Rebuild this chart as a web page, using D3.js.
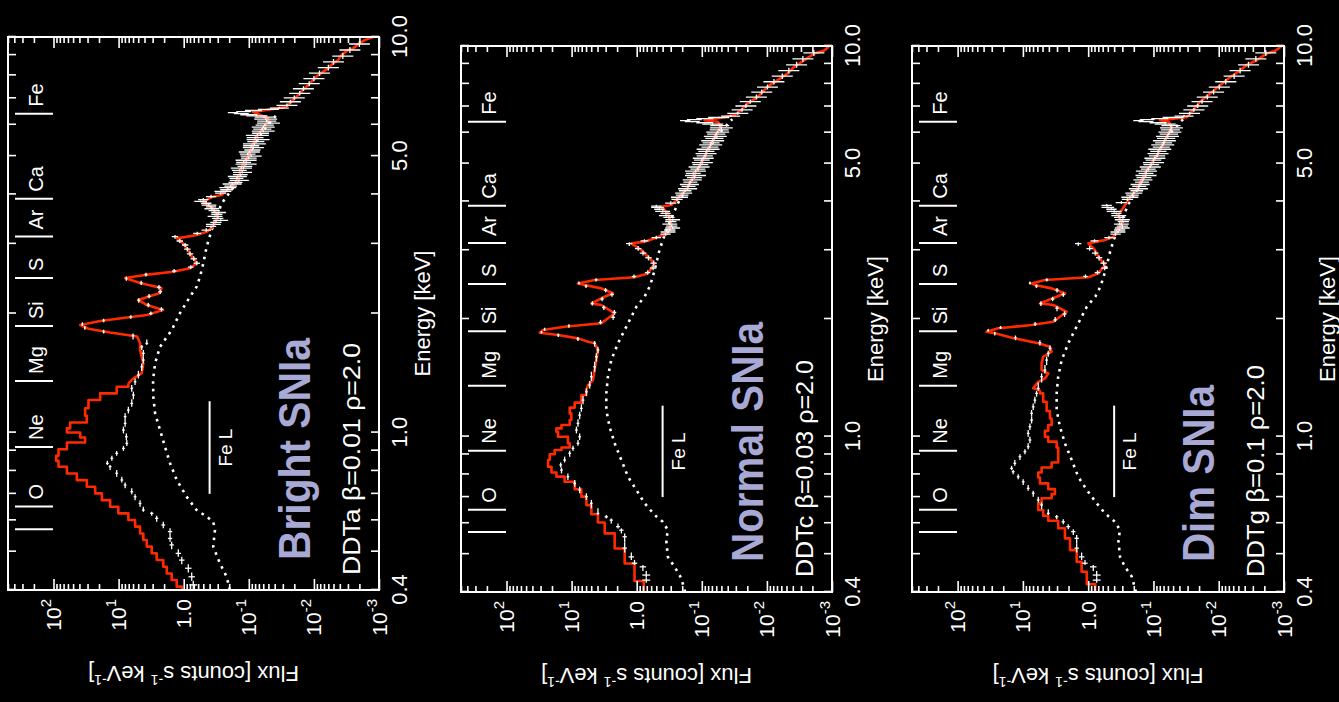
<!DOCTYPE html>
<html>
<head>
<meta charset="utf-8">
<script src="https://cdn.jsdelivr.net/npm/d3@7"></script>
<style>
  html, body { margin: 0; background: #000; }
  svg { display: block; }
  text { font-family: "Liberation Sans", Arial, sans-serif; fill: #fff; }
</style>
</head>
<body>
<svg id="chart" width="1339" height="702"></svg>
<script>
// ---------- axes ----------
const energyTicks = [0.4, 0.5, 0.6, 0.7, 0.8, 0.9, 1, 2, 3, 4, 5, 6, 7, 8, 9, 10];
const energyLabelValues = [0.4, 1, 5, 10];
const energyLabelText = ["0.4", "1.0", "5.0", "10.0"];
const fluxDecades = [100, 10, 1, 0.1, 0.01, 0.001];
const fluxLabelBase = ["10", "10", "1.0", "10", "10", "10"];
const fluxLabelExp = ["2", "1", "", "-1", "-2", "-3"];

// ---------- line identifications ----------
const elementLines = [0.57, 0.65, 0.92, 1.35, 1.86, 2.46, 3.13, 3.90, 6.40];
const elementNames = ["O", "Ne", "Mg", "Si", "S", "Ar", "Ca", "Fe"];
const elementLabelE = [0.65, 0.92, 1.35, 1.86, 2.46, 3.13, 3.90, 6.40];
const feLBand = [0.70, 1.20];
const feLFlux = 0.40;

// ---------- Bright SNIa (DDTa) ----------
const brightModel = [[0.400,1.07],[0.416,1.28],[0.432,1.53],[0.449,1.82],[0.467,2.06],[0.486,2.60],[0.505,3.10],[0.525,3.69],[0.545,4.17],[0.567,4.68],[0.590,5.58],[0.613,7.08],[0.637,10.1],[0.662,13.5],[0.688,18.1],[0.716,22.9],[0.744,30.8],[0.773,43.8],[0.804,62.2],[0.836,83.8],[0.861,90.9],[0.886,83.8],[0.930,62.2],[0.958,32.7],[0.986,38.9],[1.015,62.2],[1.035,55.5],[1.087,30.8],[1.119,32.7],[1.186,29.0],[1.232,19.2],[1.281,10.7],[1.332,7.08],[1.371,5.93],[1.413,4.41],[1.497,4.17],[1.618,4.68],[1.681,4.68],[1.750,5.2],[1.790,13.5],[1.830,29.0],[1.871,38.9],[1.915,19.2],[1.949,8.53],[1.983,3.66],[2.041,2.08],[2.101,3.66],[2.164,5.02],[2.254,2.31],[2.321,2.20],[2.388,4.68],[2.459,7.94],[2.500,4.17],[2.551,1.46],[2.602,0.80],[2.679,0.625],[2.785,0.746],[2.895,0.859],[3.009,1.03],[3.097,1.27],[3.159,0.625],[3.221,0.44],[3.316,0.356],[3.514,0.298],[3.690,0.356],[3.835,0.506],[3.948,0.356],[3.986,0.261],[4.104,0.219],[4.183,0.184],[4.306,0.154],[4.522,0.137],[4.793,0.122],[4.981,0.102],[5.28,0.0906],[5.60,0.0759],[5.82,0.0637],[6.05,0.0533],[6.23,0.0503],[6.41,0.0759],[6.47,0.0857],[6.54,0.0533],[6.64,0.0296],[6.73,0.0249],[6.93,0.0209],[7.13,0.0175],[7.34,0.0147],[7.56,0.0123],[7.78,0.0103],[8.01,0.00862],[8.17,0.00723],[8.33,0.00606],[8.58,0.00508],[8.74,0.00426],[9.00,0.00378],[9.27,0.00299],[9.36,0.0025],[9.64,0.00198],[9.82,0.00166],[10.0,0.00124]];
// [energy keV, flux, relative error]
const brightData = [[0.412,0.713,0.15],[0.432,0.753,0.12],[0.454,0.85,0.12],[0.476,1.07,0.1],[0.495,1.21,0.1],[0.520,1.53,0.08],[0.540,1.62,0.08],[0.562,1.62,0.08],[0.584,2.06,0.07],[0.607,2.60,0.06],[0.625,3.10,0.06],[0.637,4.17,0.05],[0.662,4.68,0.05],[0.688,5.58,0.05],[0.709,6.28,0.05],[0.737,7.94,0.05],[0.759,8.93,0.05],[0.789,10.7,0.05],[0.820,13.5,0.05],[0.836,14.9,0.05],[0.861,12.7,0.05],[0.886,10.7,0.05],[0.912,8.43,0.05],[0.939,7.48,0.05],[0.976,7.6,0.05],[1.015,8.43,0.05],[1.055,7.94,0.05],[1.097,7.94,0.05],[1.140,7.08,0.05],[1.185,6.28,0.05],[1.244,5.93,0.05],[1.294,6.28,0.05],[1.344,5.58,0.05],[1.398,4.96,0.05],[1.467,4.41,0.05],[1.525,4.17,0.05],[1.586,4.17,0.05],[1.648,4.41,0.05],[1.681,3.69,0.05],[1.76,6.0,0.05],[1.80,17,0.04],[1.84,33,0.03],[1.88,36,0.03],[1.92,17,0.04],[1.96,6.5,0.05],[2.00,3.2,0.06],[2.05,2.2,0.07],[2.10,3.5,0.06],[2.16,4.9,0.05],[2.21,3.4,0.06],[2.27,2.3,0.07],[2.33,2.4,0.07],[2.39,4.5,0.05],[2.45,7.6,0.04],[2.51,3.8,0.05],[2.56,1.4,0.08],[2.62,0.78,0.1],[2.68,0.63,0.12],[2.75,0.70,0.12],[2.83,0.80,0.12],[2.91,0.88,0.12],[2.98,0.95,0.12],[3.05,1.15,0.12],[3.13,1.36,0.12],[3.19,0.62,0.15],[3.25,0.45,0.18],[3.32,0.38,0.2],[3.40,0.32,0.22],[3.48,0.30,0.22],[3.56,0.31,0.22],[3.64,0.34,0.22],[3.72,0.38,0.2],[3.80,0.45,0.2],[3.88,0.50,0.2],[3.95,0.38,0.2],[4.03,0.27,0.22],[4.11,0.22,0.25],[4.20,0.19,0.25],[4.29,0.16,0.28],[4.39,0.155,0.28],[4.49,0.135,0.3],[4.60,0.14,0.3],[4.71,0.115,0.3],[4.82,0.12,0.3],[4.94,0.10,0.32],[5.06,0.104,0.32],[5.18,0.088,0.33],[5.31,0.092,0.33],[5.44,0.078,0.35],[5.57,0.080,0.35],[5.71,0.066,0.35],[5.85,0.062,0.38],[5.99,0.057,0.38],[6.13,0.053,0.4],[6.27,0.058,0.4],[6.36,0.10,0.35],[6.44,0.175,0.2],[6.52,0.085,0.35],[6.61,0.034,0.4],[6.72,0.026,0.45],[6.86,0.023,0.45],[7.02,0.020,0.45],[7.20,0.0165,0.45],[7.40,0.0145,0.45],[7.62,0.0118,0.45],[7.85,0.0100,0.45],[8.10,0.0082,0.45],[8.37,0.0060,0.45],[8.65,0.0050,0.45],[8.95,0.0036,0.45],[9.27,0.0028,0.45],[9.60,0.0020,0.45],
  [3.36,0.35,0.3],[3.44,0.27,0.3],[3.52,0.33,0.3],[3.60,0.29,0.3],[3.68,0.37,0.3],[3.76,0.41,0.3],[3.84,0.55,0.25],[4.07,0.25,0.35],[4.16,0.21,0.35],[4.25,0.18,0.4],[4.34,0.14,0.4],[4.44,0.15,0.4],[4.55,0.125,0.4],[4.66,0.13,0.45],[4.77,0.11,0.45],[4.88,0.11,0.45],[5.00,0.092,0.45],[5.12,0.098,0.45],[5.25,0.085,0.45],[5.37,0.082,0.5],[5.50,0.072,0.5],[5.64,0.074,0.5],[5.78,0.06,0.5],[5.92,0.06,0.5],[6.06,0.05,0.5],[6.20,0.055,0.5],[6.32,0.075,0.45],[6.40,0.13,0.3],[6.48,0.12,0.3],[6.56,0.05,0.45]];
const brightCont = [[0.40,0.195],[0.432,0.219],[0.467,0.277],[0.515,0.352],[0.567,0.331],[0.595,0.352],[0.613,0.444],[0.637,0.632],[0.688,0.90],[0.759,1.28],[0.836,1.62],[0.921,1.94],[1.015,2.31],[1.119,2.75],[1.232,2.93],[1.357,2.96],[1.497,2.75],[1.648,2.31],[1.816,1.53],[2.005,1.14],[2.205,0.80],[2.338,0.632],[2.477,0.562],[2.678,0.50],[2.950,0.444],[3.251,0.372],[3.513,0.312],[3.798,0.261],[4.3,0.15],[4.8,0.115],[5.3,0.085],[5.8,0.06],[6.4,0.036]];

// ---------- Normal SNIa (DDTc) ----------
const normalModel = [[0.400,0.78],[0.455,1.08],[0.492,1.53],[0.543,2.18],[0.588,3.10],[0.618,3.94],[0.648,4.97],[0.688,5.93],[0.716,7.08],[0.751,8.96],[0.782,12.8],[0.797,17.1],[0.821,20.4],[0.854,23.0],[0.888,21.7],[0.915,18.2],[0.933,14.3],[0.942,10.7],[0.980,11.4],[1.019,16.2],[1.039,17.1],[1.060,14.3],[1.081,10.7],[1.124,10.1],[1.169,10.7],[1.204,8.96],[1.240,7.08],[1.316,5.93],[1.355,5.59],[1.396,4.70],[1.480,4.43],[1.570,4.17],[1.666,3.94],[1.733,4.43],[1.749,5.59],[1.784,7.98],[1.820,16.2],[1.845,30.8],[1.874,27.5],[1.911,12.8],[1.950,3.49],[2.068,2.18],[2.172,3.49],[2.193,4.97],[2.280,3.10],[2.327,2.32],[2.396,3.49],[2.443,6.30],[2.467,7.98],[2.516,4.43],[2.557,1.08],[2.617,0.673],[2.777,0.531],[2.887,0.673],[3.004,0.849],[3.124,1.21],[3.154,0.757],[3.218,0.531],[3.314,0.332],[3.515,0.294],[3.729,0.332],[3.876,0.42],[3.915,0.294],[4.073,0.233],[4.361,0.164],[4.720,0.129],[5.006,0.102],[5.415,0.081],[5.856,0.0638],[6.21,0.0504],[6.40,0.0569],[6.46,0.091],[6.55,0.0504],[6.66,0.0315],[6.85,0.0249],[7.13,0.0197],[7.41,0.0138],[7.87,0.00973],[8.18,0.00683],[8.51,0.0048],[8.85,0.00379],[9.20,0.00266],[9.57,0.00187],[9.74,0.00131],[10.0,0.0011]];
const normalData = [[0.429,0.713,0.15],[0.442,0.713,0.15],[0.464,0.803,0.12],[0.474,1.08,0.1],[0.492,1.21,0.1],[0.518,1.53,0.08],[0.554,1.53,0.08],[0.576,1.72,0.08],[0.588,1.94,0.07],[0.611,2.46,0.06],[0.623,2.93,0.06],[0.636,3.94,0.05],[0.675,4.97,0.05],[0.702,5.93,0.05],[0.730,7.52,0.05],[0.759,8.96,0.05],[0.789,11.4,0.05],[0.821,14.3,0.05],[0.846,14.7,0.05],[0.871,12.8,0.05],[0.906,10.7,0.05],[0.933,9.52,0.05],[0.961,7.98,0.05],[0.999,7.52,0.05],[1.039,8.43,0.05],[1.081,7.98,0.05],[1.135,7.52,0.05],[1.181,7.08,0.05],[1.240,6.68,0.05],[1.302,5.93,0.05],[1.355,5.27,0.05],[1.423,4.97,0.05],[1.509,4.43,0.05],[1.601,4.17,0.05],[1.666,3.94,0.05],[1.733,4.43,0.05],[1.78,8.0,0.05],[1.82,16,0.04],[1.85,29,0.03],[1.88,26,0.03],[1.92,11,0.04],[1.96,3.6,0.06],[2.02,2.3,0.07],[2.08,2.2,0.07],[2.14,3.2,0.06],[2.19,4.8,0.05],[2.25,3.4,0.06],[2.31,2.4,0.07],[2.37,3.0,0.06],[2.43,6.0,0.05],[2.47,7.7,0.04],[2.52,4.2,0.05],[2.57,1.1,0.08],[2.63,0.68,0.1],[2.70,0.56,0.12],[2.78,0.55,0.12],[2.87,0.66,0.12],[2.95,0.80,0.12],[3.03,0.95,0.12],[3.12,1.30,0.12],[3.17,0.76,0.15],[3.23,0.50,0.18],[3.30,0.36,0.2],[3.38,0.31,0.22],[3.46,0.29,0.22],[3.55,0.30,0.22],[3.64,0.32,0.22],[3.73,0.36,0.2],[3.82,0.45,0.2],[3.89,0.50,0.2],[3.96,0.30,0.22],[4.05,0.24,0.22],[4.15,0.20,0.25],[4.26,0.18,0.25],[4.37,0.16,0.28],[4.48,0.15,0.28],[4.60,0.13,0.3],[4.72,0.135,0.3],[4.84,0.115,0.3],[4.97,0.105,0.32],[5.10,0.100,0.32],[5.23,0.09,0.33],[5.37,0.085,0.33],[5.51,0.075,0.35],[5.65,0.072,0.35],[5.80,0.064,0.38],[5.95,0.06,0.38],[6.10,0.054,0.4],[6.25,0.053,0.4],[6.36,0.09,0.35],[6.44,0.18,0.2],[6.52,0.09,0.35],[6.61,0.036,0.4],[6.72,0.028,0.45],[6.86,0.024,0.45],[7.02,0.021,0.45],[7.20,0.018,0.45],[7.40,0.0145,0.45],[7.62,0.012,0.45],[7.85,0.0098,0.45],[8.10,0.0078,0.45],[8.37,0.0058,0.45],[8.65,0.0046,0.45],[8.95,0.0035,0.45],[9.27,0.0028,0.45],[9.60,0.0019,0.45],
  [3.34,0.33,0.3],[3.42,0.28,0.3],[3.50,0.31,0.3],[3.59,0.28,0.3],[3.68,0.35,0.3],[3.77,0.40,0.3],[3.86,0.48,0.25],[4.10,0.22,0.35],[4.20,0.19,0.35],[4.31,0.165,0.4],[4.42,0.155,0.4],[4.54,0.14,0.4],[4.66,0.125,0.45],[4.78,0.125,0.45],[4.90,0.11,0.45],[5.03,0.098,0.45],[5.16,0.095,0.45],[5.30,0.086,0.45],[5.44,0.08,0.5],[5.58,0.073,0.5],[5.72,0.068,0.5],[5.87,0.062,0.5],[6.02,0.057,0.5],[6.17,0.05,0.5],[6.31,0.068,0.45],[6.40,0.14,0.3],[6.48,0.13,0.3],[6.56,0.055,0.45]];
const normalCont = [[0.40,0.18],[0.434,0.207],[0.464,0.262],[0.492,0.332],[0.543,0.352],[0.576,0.332],[0.605,0.397],[0.630,0.531],[0.675,0.757],[0.730,1.01],[0.789,1.36],[0.871,1.72],[0.961,2.18],[1.060,2.61],[1.169,2.93],[1.290,2.93],[1.423,2.77],[1.570,2.46],[1.733,1.94],[1.950,1.36],[2.150,1.01],[2.280,0.757],[2.419,0.634],[2.566,0.565],[2.777,0.50],[3.004,0.446],[3.186,0.397],[3.445,0.332],[3.692,0.279],[3.955,0.233],[4.4,0.16],[4.9,0.11],[5.4,0.08],[5.9,0.058],[6.5,0.034]];

// ---------- Dim SNIa (DDTg) ----------
const dimModel = [[0.400,0.78],[0.438,1.05],[0.464,1.26],[0.492,1.50],[0.533,1.90],[0.565,2.27],[0.600,2.88],[0.618,4.09],[0.636,4.89],[0.661,5.82],[0.688,5.17],[0.702,3.63],[0.723,3.23],[0.744,4.09],[0.774,5.48],[0.797,5.82],[0.821,5.17],[0.846,3.63],[0.871,2.88],[0.915,2.88],[0.961,3.04],[0.980,4.09],[1.019,4.60],[1.050,4.09],[1.091,3.63],[1.135,3.85],[1.192,4.33],[1.265,4.89],[1.316,5.48],[1.329,6.95],[1.381,5.82],[1.409,4.60],[1.451,4.09],[1.480,5.17],[1.540,5.17],[1.601,4.89],[1.649,3.63],[1.698,3.85],[1.733,5.82],[1.784,13.3],[1.838,26.9],[1.855,36.1],[1.893,23.9],[1.930,7.36],[1.968,3.43],[2.087,2.14],[2.172,3.43],[2.193,5.48],[2.280,3.04],[2.327,2.27],[2.396,3.63],[2.443,6.55],[2.467,7.36],[2.516,4.60],[2.557,0.995],[2.617,0.70],[2.749,0.552],[2.887,0.70],[3.004,0.787],[3.124,0.995],[3.186,0.552],[3.248,0.412],[3.380,0.345],[3.515,0.306],[3.692,0.345],[3.802,0.306],[4.033,0.243],[4.361,0.171],[4.720,0.135],[5.006,0.106],[5.415,0.0793],[5.856,0.0625],[6.21,0.0524],[6.40,0.059],[6.46,0.0793],[6.57,0.0308],[6.79,0.0259],[7.20,0.0193],[7.49,0.0144],[7.87,0.0101],[8.26,0.0071],[8.59,0.00499],[8.94,0.00371],[9.20,0.00261],[9.57,0.00183],[9.72,0.00136],[10.0,0.00108]];
const dimData = [[0.429,0.741,0.15],[0.442,0.741,0.15],[0.464,0.836,0.12],[0.474,1.12,0.1],[0.492,1.26,0.1],[0.518,1.50,0.08],[0.549,1.50,0.08],[0.571,1.69,0.08],[0.588,2.02,0.07],[0.605,2.41,0.06],[0.623,3.04,0.06],[0.636,4.09,0.05],[0.668,5.17,0.05],[0.688,5.82,0.05],[0.716,6.95,0.05],[0.737,8.30,0.05],[0.766,9.89,0.05],[0.789,11.8,0.05],[0.813,14.1,0.05],[0.829,14.9,0.05],[0.854,13.3,0.05],[0.888,11.1,0.05],[0.915,9.31,0.05],[0.942,8.30,0.05],[0.980,7.81,0.05],[1.019,8.30,0.05],[1.060,7.81,0.05],[1.102,7.36,0.05],[1.147,7.36,0.05],[1.192,6.95,0.05],[1.240,6.55,0.05],[1.290,6.17,0.05],[1.329,5.82,0.05],[1.423,5.17,0.05],[1.480,4.60,0.05],[1.570,4.33,0.05],[1.634,4.09,0.05],[1.682,3.85,0.05],[1.74,5.5,0.05],[1.79,13,0.04],[1.84,27,0.03],[1.87,34,0.03],[1.90,22,0.04],[1.94,6.5,0.05],[1.99,3.2,0.06],[2.06,2.3,0.07],[2.13,3.0,0.06],[2.19,5.3,0.05],[2.25,3.5,0.06],[2.31,2.4,0.07],[2.37,3.0,0.06],[2.43,6.2,0.05],[2.47,7.8,0.04],[2.52,4.3,0.05],[2.57,1.1,0.08],[2.63,0.72,0.1],[2.70,0.56,0.12],[2.78,0.58,0.12],[2.87,0.68,0.12],[2.95,0.78,0.12],[3.03,0.95,0.12],[3.12,1.42,0.12],[3.17,0.80,0.15],[3.23,0.48,0.18],[3.30,0.38,0.2],[3.38,0.33,0.22],[3.46,0.30,0.22],[3.55,0.29,0.22],[3.64,0.33,0.22],[3.73,0.37,0.2],[3.82,0.44,0.2],[3.91,0.52,0.2],[3.97,0.31,0.22],[4.05,0.25,0.22],[4.15,0.21,0.25],[4.26,0.18,0.25],[4.37,0.165,0.28],[4.48,0.15,0.28],[4.60,0.14,0.3],[4.72,0.13,0.3],[4.84,0.12,0.3],[4.97,0.108,0.32],[5.10,0.10,0.32],[5.23,0.088,0.33],[5.37,0.084,0.33],[5.51,0.076,0.35],[5.65,0.07,0.35],[5.80,0.064,0.38],[5.95,0.058,0.38],[6.10,0.055,0.4],[6.25,0.054,0.4],[6.36,0.085,0.35],[6.44,0.17,0.2],[6.52,0.08,0.35],[6.61,0.034,0.4],[6.72,0.028,0.45],[6.86,0.024,0.45],[7.02,0.021,0.45],[7.20,0.018,0.45],[7.40,0.015,0.45],[7.62,0.012,0.45],[7.85,0.0098,0.45],[8.10,0.0078,0.45],[8.37,0.0058,0.45],[8.65,0.0047,0.45],[8.95,0.0035,0.45],[9.27,0.0027,0.45],[9.60,0.0019,0.45],
  [3.34,0.35,0.3],[3.42,0.30,0.3],[3.50,0.31,0.3],[3.59,0.30,0.3],[3.68,0.34,0.3],[3.77,0.40,0.3],[3.86,0.50,0.25],[4.10,0.23,0.35],[4.20,0.20,0.35],[4.31,0.17,0.4],[4.42,0.16,0.4],[4.54,0.145,0.4],[4.66,0.13,0.45],[4.78,0.128,0.45],[4.90,0.112,0.45],[5.03,0.10,0.45],[5.16,0.095,0.45],[5.30,0.085,0.45],[5.44,0.08,0.5],[5.58,0.072,0.5],[5.72,0.068,0.5],[5.87,0.061,0.5],[6.02,0.056,0.5],[6.17,0.053,0.5],[6.31,0.066,0.45],[6.40,0.13,0.3],[6.48,0.125,0.3],[6.56,0.05,0.45]];
const dimCont = [[0.40,0.185],[0.438,0.215],[0.464,0.273],[0.492,0.325],[0.543,0.345],[0.576,0.325],[0.605,0.388],[0.636,0.552],[0.675,0.741],[0.730,1.05],[0.789,1.42],[0.871,1.79],[0.961,2.27],[1.060,2.71],[1.169,3.04],[1.290,3.04],[1.423,2.88],[1.570,2.55],[1.733,2.02],[1.950,1.42],[2.150,1.05],[2.280,0.78],[2.419,0.65],[2.566,0.58],[2.777,0.51],[3.004,0.455],[3.186,0.405],[3.445,0.34],[3.692,0.285],[3.955,0.238],[4.4,0.165],[4.9,0.115],[5.4,0.082],[5.9,0.06],[6.5,0.035]];

// ---------- layout of the three panels (screen pixels) ----------
const panels = [
  { left: 8,   top: 37, width: 371, height: 553, model: brightModel, data: brightData, cont: brightCont,
    title: "Bright SNIa", titleLen: 222, sub: "DDTa β=0.01 ρ=2.0", subLen: 232 },
  { left: 461, top: 46, width: 371, height: 546, model: normalModel, data: normalData, cont: normalCont,
    title: "Normal SNIa", titleLen: 240, sub: "DDTc β=0.03 ρ=2.0", subLen: 217 },
  { left: 912, top: 46, width: 372, height: 546, model: dimModel, data: dimData, cont: dimCont,
    title: "Dim SNIa", titleLen: 177, sub: "DDTg β=0.1 ρ=2.0", subLen: 212 }
];

// the model is drawn as a histogram below this energy and as a polyline above it
const STEP_LIMIT = 1.3;
const RED = "#ff2a00";
const LAVENDER = "#a9a9d6";
const svg = d3.select("#chart");
svg.append("rect").attr("width", 1339).attr("height", 702).attr("fill", "#000");

function styleAxis(sel) {
  sel.attr("font-size", null).attr("font-family", null);
  sel.select(".domain").remove();
  sel.selectAll(".tick line").attr("stroke", "#fff").attr("stroke-width", 1.6);
  sel.selectAll(".tick text").attr("fill", "#fff").style("font-size", "22px");
}

panels.forEach((p, i) => {
  // Each spectrum is laid out with energy along x and flux along y,
  // then the whole panel is turned a quarter turn counter-clockwise.
  const W = p.height, H = p.width;
  const g = svg.append("g")
    .attr("transform", `translate(${p.left},${p.top + p.height}) rotate(-90)`);

  const x = d3.scaleLog().domain([0.4, 10]).range([0, W]);
  const y = d3.scaleLog().domain([1e-3, 500]).range([H, 0]);

  const clipId = "plotclip" + i;
  g.append("clipPath").attr("id", clipId)
    .append("rect").attr("width", W).attr("height", H);
  const plot = g.append("g").attr("clip-path", `url(#${clipId})`);

  // continuum (dotted)
  plot.append("path")
    .datum(p.cont)
    .attr("fill", "none").attr("stroke", "#fff").attr("stroke-width", 2.6)
    .attr("stroke-dasharray", "2.6,5")
    .attr("d", d3.line().x(d => x(d[0])).y(d => y(d[1])));

  // model
  const split = p.model.findIndex(d => d[0] > STEP_LIMIT);
  const modelStyle = path => path.attr("fill", "none").attr("stroke", RED)
    .attr("stroke-width", 2.6).attr("stroke-linejoin", "round");
  plot.append("path").datum(p.model.slice(0, split + 1)).call(modelStyle)
    .attr("d", d3.line().x(d => x(d[0])).y(d => y(d[1])).curve(d3.curveStep));
  plot.append("path").datum(p.model.slice(split)).call(modelStyle)
    .attr("d", d3.line().x(d => x(d[0])).y(d => y(d[1])));

  // data points: energy bin + flux error
  const pts = p.data.slice().sort((a, b) => a[0] - b[0]);
  const n = pts.length;
  const cross = plot.append("g").attr("stroke", "#fff").attr("stroke-width", 1.3);
  pts.forEach((d, j) => {
    const e = d[0];
    const prev = j > 0 ? pts[j - 1][0] : e * e / pts[j + 1][0];
    const next = j < n - 1 ? pts[j + 1][0] : e * e / prev;
    const cx = x(e);
    const lo = Math.max(x(Math.sqrt(prev * e)), cx - 6);
    const hi = Math.min(x(Math.sqrt(next * e)), cx + 6);
    cross.append("line").attr("x1", lo).attr("x2", hi).attr("y1", y(d[1])).attr("y2", y(d[1]));
    cross.append("line").attr("x1", cx).attr("x2", cx)
      .attr("y1", y(d[1] / (1 + d[2]))).attr("y2", y(d[1] * (1 + d[2])));
  });

  // frame
  g.append("rect").attr("width", W).attr("height", H)
    .attr("fill", "none").attr("stroke", "#fff").attr("stroke-width", 2);

  // energy axis (ticks on both long edges)
  g.append("g").attr("transform", `translate(0,${H})`)
    .call(d3.axisBottom(x).tickValues(energyTicks).tickSize(-8).tickPadding(12)
      .tickFormat(v => { const k = energyLabelValues.indexOf(v); return k >= 0 ? energyLabelText[k] : ""; }))
    .call(styleAxis);
  g.append("g")
    .call(d3.axisTop(x).tickValues(energyTicks).tickSize(-8).tickFormat(""))
    .call(styleAxis);

  // flux axis: decades and minor ticks on both short edges
  const minor = [];
  fluxDecades.forEach(dec => { for (let m = 2; m <= 9; m++) { const v = m * dec; if (v <= 500) minor.push(v); } });
  [[d3.axisLeft, 0], [d3.axisRight, W]].forEach(([axisFn, pos]) => {
    g.append("g").attr("transform", `translate(${pos},0)`)
      .call(axisFn(y).tickValues(fluxDecades).tickSize(-11).tickFormat(""))
      .call(styleAxis);
    g.append("g").attr("transform", `translate(${pos},0)`)
      .call(axisFn(y).tickValues(minor).tickSize(-6).tickFormat(""))
      .call(styleAxis);
  });

  // flux tick labels with exponents
  fluxDecades.forEach((dec, k) => {
    const t = g.append("text").attr("x", -9).attr("y", y(dec))
      .attr("text-anchor", "end").style("font-size", "21px");
    t.append("tspan").attr("dy", "0.36em").text(fluxLabelBase[k]);
    if (fluxLabelExp[k]) t.append("tspan").attr("dy", -10).style("font-size", "15px").text(fluxLabelExp[k]);
  });

  // axis titles
  g.append("text").attr("x", W / 2).attr("y", H + 51)
    .attr("text-anchor", "middle").style("font-size", "22px").text("Energy [keV]");
  const ft = g.append("text").attr("transform", `translate(-76,${H / 2}) rotate(-90)`)
    .attr("text-anchor", "middle").style("font-size", "22px");
  ft.append("tspan").text("Flux [counts s");
  ft.append("tspan").attr("dy", -9).style("font-size", "14px").text("-1");
  ft.append("tspan").attr("dy", 9).text(" keV");
  ft.append("tspan").attr("dy", -9).style("font-size", "14px").text("-1");
  ft.append("tspan").attr("dy", 9).text("]");

  // element identifications along the top
  elementLines.forEach(e => {
    g.append("line").attr("x1", x(e)).attr("x2", x(e)).attr("y1", 7).attr("y2", 45)
      .attr("stroke", "#fff").attr("stroke-width", 2);
  });
  elementNames.forEach((name, k) => {
    g.append("text").attr("x", x(elementLabelE[k]) + 7).attr("y", 35)
      .style("font-size", "20px").text(name);
  });

  // Fe L band
  g.append("line").attr("x1", x(feLBand[0])).attr("x2", x(feLBand[1]))
    .attr("y1", y(feLFlux)).attr("y2", y(feLFlux))
    .attr("stroke", "#fff").attr("stroke-width", 2);
  g.append("text").attr("x", (x(feLBand[0]) + x(feLBand[1])) / 2).attr("y", y(feLFlux) + 22)
    .attr("text-anchor", "middle").style("font-size", "19px").text("Fe L");

  // model name and parameters
  g.append("text").attr("x", 30).attr("y", 302)
    .attr("textLength", p.titleLen).attr("lengthAdjust", "spacingAndGlyphs")
    .style("font-size", "45px").style("font-weight", "bold").style("fill", LAVENDER)
    .text(p.title);
  g.append("text").attr("x", 15).attr("y", 352)
    .attr("textLength", p.subLen).attr("lengthAdjust", "spacingAndGlyphs")
    .style("font-size", "24px").text(p.sub);
});
</script>
</body>
</html>
